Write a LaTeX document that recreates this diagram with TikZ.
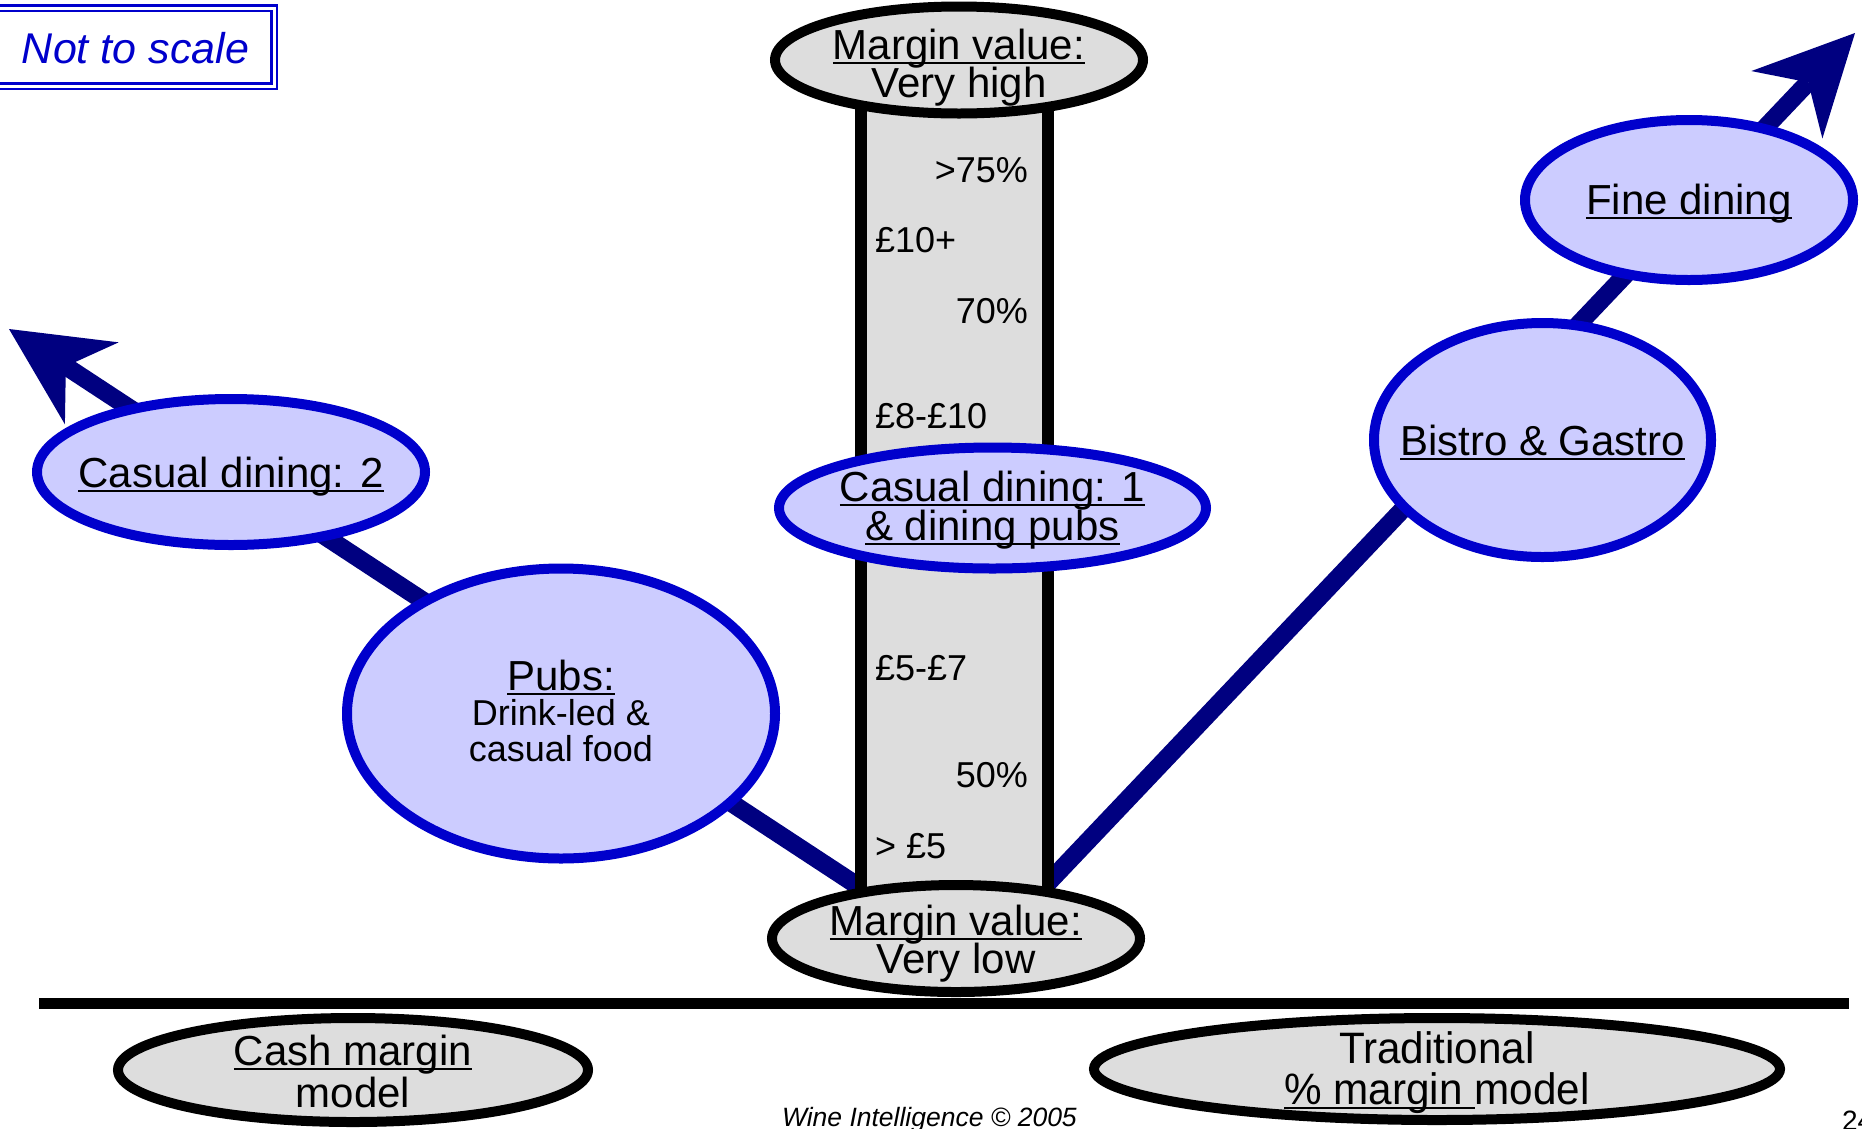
\documentclass[tikz,border=0pt]{standalone}
\usepackage{fontspec}
\setmainfont{Liberation Sans}
\usepackage{graphicx}
\usetikzlibrary{shapes.geometric,arrows.meta}
\definecolor{navy}{HTML}{000080}
\definecolor{bord}{HTML}{0000CC}
\definecolor{lav}{HTML}{CCCCFF}
\definecolor{lgray}{HTML}{DDDDDD}
\newsavebox\ulbox
\newcommand\uln[1]{\sbox\ulbox{#1}\rlap{\rule[-0.12em]{\wd\ulbox}{0.055em}}\usebox\ulbox}
\newcommand\txtline[2]{\makebox[0pt]{\raisebox{-#1}[0pt][0pt]{#2}}}
\begin{document}
\begin{tikzpicture}[x=1pt,y=-1pt,
  every node/.style={inner sep=0pt, outer sep=0pt},
  blueell/.style={ellipse, draw=bord, fill=lav, line width=10pt},
  grayell/.style={ellipse, draw=black, fill=lgray, line width=10pt},
  big/.style={font=\fontsize{42}{42}\selectfont},
  collab/.style={font=\fontsize{36}{36}\selectfont},
  trend/.style={draw=navy, line width=18pt, -{Stealth[length=99pt, width=98pt, inset=31pt, line width=0pt]}},
]
\useasboundingbox (0,0) rectangle (1862,1128);
\clip (0,0) rectangle (1862,1128);
\fill[white] (0,0) rectangle (1862,1128);

% base line
\coordinate (baseL) at (39,1003);
\coordinate (baseR) at (1849,1003);
\draw[line width=11pt] (baseL) -- (baseR);

% trend arrows
\coordinate (lowL) at (861,888);
\coordinate (tipL) at (9,329);
\coordinate (lowR) at (1047,884);
\coordinate (tipR) at (1855,33);
\draw[trend] (lowL) -- (tipL);
\draw[trend] (lowR) -- (tipR);

% column
\node[draw=black, fill=lgray, line width=12pt, rectangle, minimum width=187pt, minimum height=880pt] (col) at (954.5,505) {};
\node[collab, anchor=base east] (p75) at (1028,182) {>75\%};
\node[collab, anchor=base west] (p10) at (875,252) {£10+};
\node[collab, anchor=base east] (p70) at (1028,323) {70\%};
\node[collab, anchor=base west] (p8) at (875,428) {£8-£10};
\node[collab, anchor=base west] (p5) at (875,680) {£5-£7};
\node[collab, anchor=base east] (p50) at (1028,787) {50\%};
\node[collab, anchor=base west] (plt5) at (875,858) {> £5};

% margin value ellipses
\node[grayell, big, minimum width=368pt, minimum height=107pt] (vhigh) at (959,60)
  {\txtline{-1pt}{\uln{Margin value:}}\txtline{37pt}{Very high}};
\node[grayell, big, minimum width=368pt, minimum height=107pt] (vlow) at (956,938.5)
  {\txtline{-3.5pt}{\uln{Margin value:}}\txtline{34.5pt}{Very low}};

% outlet ellipses
\node[blueell, big, minimum width=388pt, minimum height=146pt] (cd2) at (231,472)
  {\txtline{15pt}{\uln{Casual dining: 2}}};
\node[blueell, big, minimum width=428pt, minimum height=290pt] (pubs) at (561,713.5)
  {\txtline{-23.5pt}{\uln{Pubs:}}\txtline{11.5pt}{\fontsize{36}{36}\selectfont Drink-led \&}\txtline{47.5pt}{\fontsize{36}{36}\selectfont casual food}};
\node[blueell, big, minimum width=427pt, minimum height=121pt] (cd1) at (992.5,508)
  {\txtline{-7pt}{\uln{Casual dining: 1}}\txtline{32pt}{\uln{\& dining pubs}}};
\node[blueell, big, minimum width=337pt, minimum height=234pt] (bistro) at (1542.5,440)
  {\txtline{15pt}{\uln{Bistro \& Gastro}}};
\node[blueell, big, minimum width=328pt, minimum height=160pt] (fine) at (1689,200)
  {\txtline{14pt}{\uln{Fine dining}}};

% model ellipses
\node[grayell, big, minimum width=470pt, minimum height=104pt] (cash) at (353,1070)
  {\txtline{-5pt}{\uln{Cash margin}}\txtline{37pt}{model}};
\node[grayell, minimum width=686pt, minimum height=102pt, font=\fontsize{44}{44}\selectfont] (trad) at (1437,1069)
  {\txtline{-6pt}{\scalebox{0.96}[1]{Traditional}}\txtline{35pt}{\scalebox{0.96}[1]{\uln{\% margin\ }model}}};

% not to scale
\node[draw=bord, line width=2.7pt, double=white, double distance=3pt, minimum width=284pt, minimum height=78pt,
  font=\fontsize{43}{43}\selectfont\itshape, text=bord] (nts) at (132,47) {\txtline{16pt}{\hspace*{7pt}Not to scale}};

% footer
\node[anchor=base west, font=\fontsize{26.5}{26.5}\selectfont\itshape] (foot) at (782,1126) {Wine Intelligence © 2005};
\node[anchor=base west, font=\fontsize{28}{28}\selectfont] (pg) at (1842,1130) {24};
\end{tikzpicture}
\end{document}
